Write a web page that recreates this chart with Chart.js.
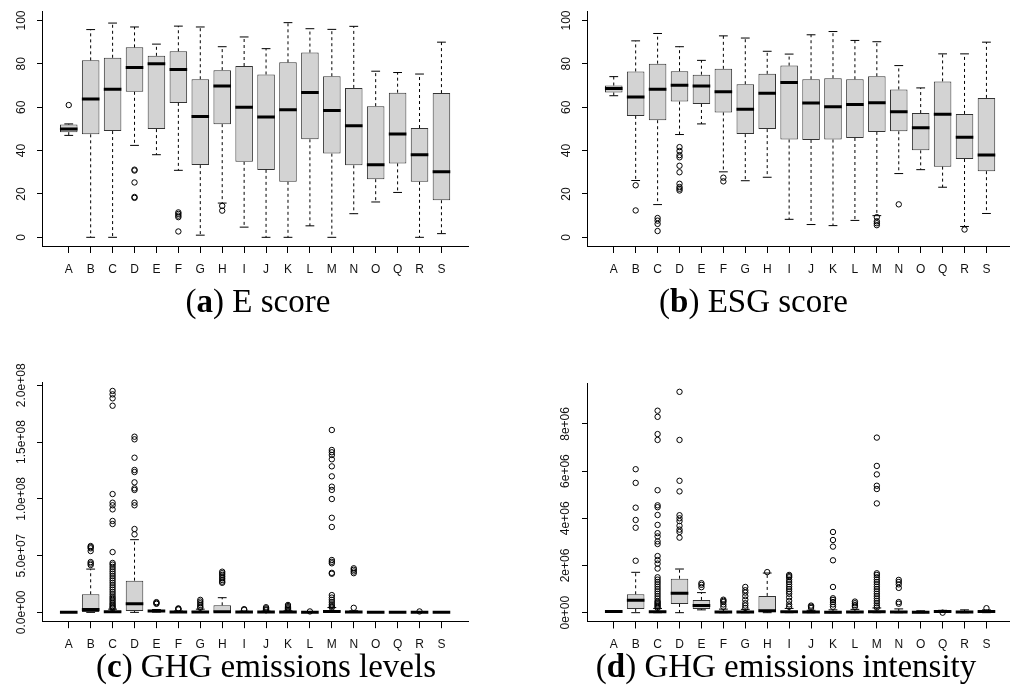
<!DOCTYPE html>
<html>
<head>
<meta charset="utf-8">
<script src="https://cdn.jsdelivr.net/npm/chart.js@4.4.1/dist/chart.umd.min.js"></script>
<style>
html,body{margin:0;padding:0;background:#fff;overflow:hidden;width:1010px;height:698px;}
.wrap{position:absolute;}
canvas{display:block;}
.cap{position:absolute;font-family:"Liberation Serif","DejaVu Serif",serif;font-size:33px;line-height:37px;text-align:center;color:#000;white-space:nowrap;}
</style>
</head>
<body>
<div class="wrap" style="left:0px;top:0px;"><canvas id="ca" width="480" height="300"></canvas></div>
<div class="wrap" style="left:544.7px;top:0px;"><canvas id="cb" width="480" height="300"></canvas></div>
<div class="wrap" style="left:0px;top:350px;"><canvas id="cc" width="480" height="310"></canvas></div>
<div class="wrap" style="left:544.7px;top:350px;"><canvas id="cd" width="480" height="310"></canvas></div>
<div class="cap" style="left:0px;width:516px;top:283.4px;">(<b>a</b>) E score</div>
<div class="cap" style="left:500px;width:507px;top:283.4px;">(<b>b</b>) ESG score</div>
<div class="cap" style="left:0px;width:532px;top:648.4px;">(<b>c</b>) GHG emissions levels</div>
<div class="cap" style="left:572px;width:428px;top:648.4px;">(<b>d</b>) GHG emissions intensity</div>
<script>
// ---------- categories ----------
const categories = ['A','B','C','D','E','F','G','H','I','J','K','L','M','N','O','Q','R','S'];

// ---------- (a) E score ----------
const eMin = [47.0, 0, 0, 42.4, 38.1, 30.9, 1.0, 15.8, 4.7, 0, 0, 5.3, 0, 10.9, 16.3, 20.7, 0, 1.7];
const eQ1  = [48.5, 47.5, 49.0, 67.1, 49.9, 62.0, 33.3, 52.2, 34.8, 31.1, 25.6, 45.2, 38.6, 33.2, 26.8, 34.1, 25.6, 17.1];
const eMed = [50.0, 63.8, 68.3, 78.3, 80.1, 77.4, 55.7, 69.8, 60.0, 55.5, 58.8, 66.8, 58.5, 51.4, 33.5, 47.6, 38.1, 30.2];
const eQ3  = [52.0, 81.6, 82.8, 87.6, 83.7, 85.8, 72.9, 77.1, 79.0, 75.1, 80.7, 85.2, 74.3, 68.9, 60.5, 66.7, 50.4, 66.5];
const eMax = [52.3, 95.8, 98.8, 97.0, 89.1, 97.4, 97.0, 87.9, 92.4, 87.0, 99.0, 96.2, 95.9, 97.3, 76.6, 76.0, 75.3, 90.0];
const eOut = [[61], [], [], [31.2, 30.8, 25.3, 18.6, 18.2], [], [11.5, 10.8, 10.0, 9.3, 2.7], [], [14.5, 12.3],
              [], [], [], [], [], [], [], [], [], []];

// ---------- (b) ESG score ----------
const esgMin = [65.3, 26.2, 15.1, 47.4, 52.3, 30.2, 26.1, 27.7, 8.3, 5.9, 5.4, 7.8, 10.0, 29.4, 31.2, 23.1, 5.0, 11.0];
const esgQ1  = [66.8, 56.0, 54.0, 62.6, 61.5, 57.6, 47.6, 49.9, 45.1, 44.9, 45.1, 45.8, 48.6, 48.9, 40.1, 32.6, 36.1, 30.5];
const esgMed = [68.6, 64.7, 68.3, 70.1, 69.8, 67.1, 59.1, 66.4, 71.4, 61.9, 60.2, 61.2, 62.1, 57.9, 50.5, 56.7, 46.2, 38.0];
const esgQ3  = [70.0, 76.5, 80.1, 76.6, 75.0, 77.7, 70.6, 75.4, 79.2, 72.9, 73.4, 72.9, 74.3, 68.2, 57.3, 71.9, 56.9, 64.3];
const esgMax = [74.1, 90.6, 94.0, 87.9, 81.6, 92.9, 91.9, 85.8, 84.5, 93.4, 94.9, 90.8, 90.2, 79.2, 68.9, 84.6, 84.6, 90.0];
const esgOut = [[], [24.0, 12.4], [8.9, 7.7, 6.2, 2.9], [41.6, 39.8, 37.9, 36.9, 33.0, 30.0, 24.7, 23.2, 22.4, 21.6], [],
                [27.5, 25.8], [], [], [], [], [], [], [9.3, 7.4, 6.5, 5.6], [15.2], [], [], [3.6], []];

// ---------- (c) GHG emissions levels (millions) ----------
const lvMin = [0, 0, 0, 0, 0.2, 0, 0, 0, 0, 0, 0, 0, 0, 0, 0, 0, 0, 0];
const lvQ1  = [0.02, 0.2, 0.1, 1.1, 0.6, 0.05, 0.1, 0.1, 0.05, 0.05, 0.05, 0.02, 0.2, 0.05, 0.02, 0.02, 0.02, 0.02];
const lvMed = [0.1, 2.6, 0.5, 7.6, 1.2, 0.2, 0.4, 0.6, 0.2, 0.2, 0.2, 0.1, 0.8, 0.2, 0.08, 0.05, 0.1, 0.08];
const lvQ3  = [0.3, 15.9, 1.2, 27.9, 1.8, 0.6, 1.2, 6.2, 0.5, 0.5, 0.6, 0.2, 1.8, 0.6, 0.2, 0.15, 0.3, 0.2];
const lvMax = [0.6, 38.1, 2.8, 64.0, 2.5, 1.2, 2.8, 12.9, 1.1, 1.1, 1.4, 0.4, 4.2, 1.4, 0.4, 0.3, 0.6, 0.4];
const lvOut = [
  [],
  [58.4, 57.5, 56.4, 54.0, 44.3, 43.0, 41.7],
  [195, 192, 188.5, 182, 104.2, 96.6, 94.3, 90.7, 80.5, 77.8, 53.1, 43.5, 42, 40, 38, 36, 34, 32, 30, 28, 26, 24, 22, 20, 18, 16, 14, 12.5, 11, 9.5, 8, 6.8, 5.5, 4.5, 3.5],
  [154.7, 152.4, 136.2, 125.4, 123.6, 114.5, 109.2, 107.8, 96.6, 94.3, 73.4, 68.7],
  [9.0, 8.2, 7.5],
  [3.5, 3.0, 2.5],
  [11.0, 9.5, 8.0, 6.5, 5.0, 4.0],
  [35.8, 34.5, 33.0, 31.5, 30.0, 28.5, 27.0, 26.0],
  [2.8, 2.2],
  [4.5, 3.5, 2.5, 1.8],
  [6.5, 5.5, 4.5, 3.5, 2.5],
  [0.8],
  [160.6, 143, 141, 138.6, 134.8, 128.6, 119.8, 110.7, 107.8, 99.8, 83.3, 75.2, 46.1, 44.5, 43.2, 34.8, 34.0, 15.2, 13, 11, 9, 7, 5.5, 4.2],
  [38.8, 37.5, 36.0, 34.5, 4.0],
  [], [], [0.8], []
];

// ---------- (d) GHG emissions intensity (millions) ----------
const inMin = [0.03, 0, 0, 0, 0.12, 0, 0, 0, 0, 0, 0, 0, 0, 0, 0, 0.02, 0, 0];
const inQ1  = [0.04, 0.16, 0.01, 0.37, 0.16, 0.01, 0.01, 0.02, 0.01, 0.01, 0.01, 0.01, 0.01, 0.01, 0.01, 0.03, 0.01, 0.02];
const inMed = [0.05, 0.53, 0.04, 0.82, 0.30, 0.03, 0.03, 0.08, 0.04, 0.03, 0.02, 0.03, 0.04, 0.03, 0.02, 0.05, 0.03, 0.05];
const inQ3  = [0.06, 0.78, 0.08, 1.44, 0.54, 0.06, 0.06, 0.71, 0.08, 0.05, 0.05, 0.06, 0.09, 0.07, 0.04, 0.08, 0.06, 0.08];
const inMax = [0.08, 1.71, 0.18, 1.85, 0.85, 0.15, 0.14, 1.68, 0.18, 0.10, 0.12, 0.14, 0.20, 0.16, 0.08, 0.10, 0.12, 0.12];
const inOut = [
  [],
  [6.08, 5.5, 4.45, 3.93, 3.6, 2.2],
  [8.56, 8.3, 7.57, 7.32, 5.19, 4.55, 4.47, 4.14, 3.72, 3.37, 3.23, 3.02, 2.91, 2.4, 2.23, 2.08, 1.87, 1.5, 1.4, 1.3, 1.2, 1.1, 1.0, 0.9, 0.8, 0.7, 0.6, 0.5, 0.45, 0.4, 0.35, 0.3, 0.25, 0.2],
  [9.36, 7.32, 5.59, 5.14, 4.13, 4.0, 3.88, 3.68, 3.52, 3.42, 3.18],
  [1.25, 1.18, 1.08],
  [0.55, 0.5, 0.45, 0.35, 0.25],
  [1.09, 0.95, 0.85, 0.7, 0.55, 0.4, 0.3, 0.2],
  [1.72],
  [1.6, 1.55, 1.5, 1.4, 1.3, 1.2, 1.1, 1.0, 0.9, 0.8, 0.65, 0.5, 0.35, 0.25],
  [0.3, 0.25, 0.2],
  [3.42, 3.08, 2.8, 2.22, 1.09, 0.61, 0.54, 0.45, 0.35, 0.25],
  [0.47, 0.4, 0.32, 0.25],
  [7.42, 6.22, 5.86, 5.38, 5.24, 4.63, 1.67, 1.6, 1.5, 1.4, 1.3, 1.2, 1.1, 1.0, 0.9, 0.8, 0.7, 0.6, 0.5, 0.4, 0.3, 0.22],
  [1.39, 1.3, 1.2, 1.05, 0.45, 0.38],
  [], [0.0], [], [0.19]
];

// ---------- y tick values / labels ----------
const scoreTicks = [0, 20, 40, 60, 80, 100];
const scoreTickLabels = ['0', '20', '40', '60', '80', '100'];
const levelTicks = [0, 50, 100, 150, 200];
const levelTickLabels = ['0.0e+00', '5.0e+07', '1.0e+08', '1.5e+08', '2.0e+08'];
const intensTicks = [0, 2, 4, 6, 8];
const intensTickLabels = ['0e+00', '2e+06', '4e+06', '6e+06', '8e+06'];

const FONT = "'Liberation Sans', Arial, Helvetica, sans-serif";

function buildChart(id, s, cfg) {
  const xs = categories.map((_, i) => i + 1);
  const boxes = xs.map((x, i) => ({x: x, y: [s.q1[i], s.q3[i]]}));
  const medians = xs.map((x, i) => ({x: x, y: s.med[i]}));
  const caps = [];
  const whiskers = [];
  xs.forEach((x, i) => {
    caps.push({x: x, y: s.max[i]}, {x: x, y: s.min[i]});
    whiskers.push({x: x, y: s.q3[i]}, {x: x, y: s.max[i]}, {x: x, y: null},
                  {x: x, y: s.q1[i]}, {x: x, y: s.min[i]}, {x: x, y: null});
  });
  const outliers = [];
  xs.forEach((x, i) => s.out[i].forEach(v => outliers.push({x: x, y: v})));

  new Chart(document.getElementById(id), {
    type: 'bar',
    data: {
      datasets: [
        {type: 'scatter', data: medians, order: 0, pointStyle: 'line', pointRadius: 8.8,
         pointBorderWidth: 3, pointBorderColor: '#000', pointBackgroundColor: '#000', pointHoverRadius: 8.8},
        {type: 'scatter', data: caps, order: 1, pointStyle: 'line', pointRadius: 4.4,
         pointBorderWidth: 1, pointBorderColor: '#000', pointHoverRadius: 4.4},
        {type: 'scatter', data: outliers, order: 2, pointStyle: 'circle', pointRadius: 2.7,
         pointBorderWidth: 1, pointBorderColor: '#000', pointBackgroundColor: 'rgba(0,0,0,0)', pointHoverRadius: 2.7},
        {type: 'line', data: whiskers, order: 3, borderColor: '#000', borderWidth: 1, borderDash: [3, 3],
         pointRadius: 0, spanGaps: false, fill: false, tension: 0},
        {type: 'bar', data: boxes, order: 4, backgroundColor: '#d3d3d3', borderColor: '#333', borderWidth: 1,
         borderSkipped: false, barPercentage: 0.8, categoryPercentage: 1.0}
      ]
    },
    options: {
      responsive: false,
      animation: false,
      events: [],
      layout: {padding: cfg.pad},
      plugins: {legend: {display: false}, tooltip: {enabled: false}, title: {display: false}},
      scales: {
        x: {
          type: 'linear', min: -0.22, max: 19.22, bounds: 'data', offset: false,
          afterBuildTicks: sc => { sc.ticks = xs.map(v => ({value: v})); },
          afterFit: sc => { sc.height = 30; sc.paddingLeft = 0; sc.paddingRight = 0; },
          ticks: {autoSkip: false, minRotation: 0, maxRotation: 0, padding: 9, color: '#111',
                  font: {family: FONT, size: 12}, callback: (v, i) => categories[i]},
          grid: {display: true, offset: false, drawOnChartArea: false, drawTicks: true, tickLength: 7, color: '#000', lineWidth: 1},
          border: {display: true, color: '#000', width: 1}
        },
        y: {
          type: 'linear', min: cfg.yMin, max: cfg.yMax, bounds: 'data',
          afterBuildTicks: sc => { sc.ticks = cfg.ticks.map(v => ({value: v})); },
          afterFit: sc => { sc.width = 42; sc.paddingTop = 0; sc.paddingBottom = 0; },
          ticks: {autoSkip: false, minRotation: 90, maxRotation: 90, crossAlign: 'center', padding: cfg.yPad,
                  color: '#111', font: {family: FONT, size: 12}, callback: (v, i) => cfg.labels[i]},
          grid: {display: true, drawOnChartArea: false, drawTicks: true, tickLength: 5, color: '#000', lineWidth: 1},
          border: {display: true, color: '#000', width: 1}
        }
      }
    }
  });
}

buildChart('ca', {min: eMin, q1: eQ1, med: eMed, q3: eQ3, max: eMax, out: eOut},
  {yMin: -4, yMax: 104, ticks: scoreTicks, labels: scoreTickLabels, yPad: 5,
   pad: {left: 0, right: 10, top: 7.2, bottom: 24}});
buildChart('cb', {min: esgMin, q1: esgQ1, med: esgMed, q3: esgQ3, max: esgMax, out: esgOut},
  {yMin: -4, yMax: 104, ticks: scoreTicks, labels: scoreTickLabels, yPad: 5,
   pad: {left: 0, right: 10.4, top: 7.2, bottom: 24}});
buildChart('cc', {min: lvMin, q1: lvQ1, med: lvMed, q3: lvQ3, max: lvMax, out: lvOut},
  {yMin: -7.8, yMax: 202.8, ticks: levelTicks, labels: levelTickLabels, yPad: -6.85,
   pad: {left: 0, right: 10, top: 32.1, bottom: 8.8}});
buildChart('cd', {min: inMin, q1: inQ1, med: inMed, q3: inQ3, max: inMax, out: inOut},
  {yMin: -0.374, yMax: 9.734, ticks: intensTicks, labels: intensTickLabels, yPad: -0.15,
   pad: {left: 0, right: 10.4, top: 33, bottom: 8.5}});
</script>
</body>
</html>
